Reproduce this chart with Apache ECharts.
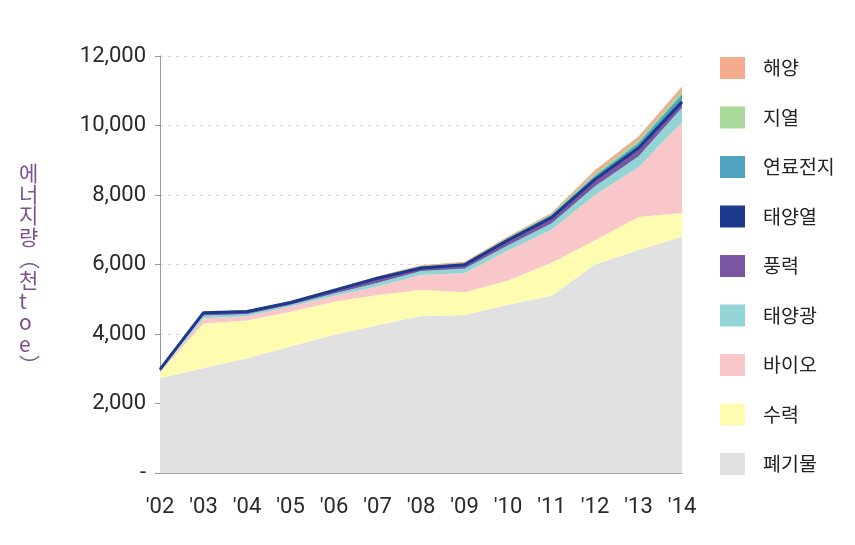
<!DOCTYPE html>
<html>
<head>
<meta charset="utf-8">
<script src="https://cdn.jsdelivr.net/npm/echarts@6/dist/echarts.min.js"></script>
<style>html,body{margin:0;padding:0;background:#fff}#c{width:855px;height:545px}</style>
</head>
<body>
<div id="c"></div>
<script>
const years = ["'02","'03","'04","'05","'06","'07","'08","'09","'10","'11","'12","'13","'14"];
const seriesNames = ['폐기물','수력','바이오','태양광','풍력','태양열','연료전지','지열','해양'];
const waste      = [2730,3020,3300,3640,3980,4250,4520,4550,4840,5100,6000,6420,6800];
const hydro      = [170,1280,1090,1000,950,870,750,650,700,950,700,950,680];
const bio        = [30,150,120,150,160,250,430,550,860,950,1300,1430,2620];
const solarPV    = [5,70,50,40,60,90,100,120,140,170,240,300,400];
const wind       = [15,60,50,40,70,110,70,90,130,150,180,220,150];
const solarHeat  = [30,35,35,35,35,33,30,30,30,30,30,30,30];
const fuelCell   = [0,5,5,5,5,10,20,30,40,60,90,130,200];
const geo        = [5,15,15,20,25,30,40,40,40,50,65,90,110];
const ocean      = [0,0,0,0,0,0,0,0,10,10,95,100,110];
const yTicks = [0,2000,4000,6000,8000,10000,12000];
const legendOrder = ['해양','지열','연료전지','태양열','풍력','태양광','바이오','수력','폐기물'];
const yTitle = ['에','너','지','량','︵','천','t','o','e','︶'];

const values = [waste, hydro, bio, solarPV, wind, solarHeat, fuelCell, geo, ocean];
const colors = ['#e1e1e1','#fdfcb0','#f9c7ca','#93d5d4','#7a55a3','#1b3a8e','#4fa3bf','#a8d89a','#f4aa8c'];
const lineW  = [0,0,0,1,1,3,1,1,1];

const chart = echarts.init(document.getElementById('c'), null, {renderer:'canvas'});
chart.setOption({
  animation:false,
  backgroundColor:'#fff',
  grid:{left:160,right:173,top:56,bottom:72},
  legend:{
    orient:'vertical', left:715, top:52,
    icon:'rect', itemWidth:25, itemHeight:22, itemGap:27.5,
    data:legendOrder,
    textStyle:{fontFamily:'Noto Sans CJK KR', fontSize:19.5, color:'#222', padding:[0,0,0,13]}
  },
  graphic:[{
    type:'text', left:19, top:162,
    style:{text:yTitle.join('\n'), fill:'#7d5191', font:'21px "Noto Sans CJK KR"', lineHeight:21.4, align:'center'}
  }],
  xAxis:{
    type:'category', data:years, boundaryGap:false,
    axisLine:{show:true, lineStyle:{color:'#aaa', width:1}},
    axisTick:{show:false},
    axisLabel:{margin:23, fontFamily:'Roboto', fontSize:22, color:'#2a2a2a'}
  },
  yAxis:{
    type:'value', min:yTicks[0], max:yTicks[yTicks.length-1], interval:2000,
    axisLine:{show:true, lineStyle:{color:'#999', width:1}},
    axisTick:{show:true, length:5, lineStyle:{color:'#999'}},
    axisLabel:{margin:14, fontFamily:'Roboto', fontSize:22, color:'#2a2a2a',
      formatter:v => v === 0 ? '-' : v.toLocaleString('en-US')},
    splitLine:{show:true, lineStyle:{color:'#d4d4d4', type:[3,5], width:1}}
  },
  series: seriesNames.map((n,i)=>({
    name:n, type:'line', stack:'total', data:values[i],
    symbol:'none', smooth:false, z: i === 5 ? 4 : 2,
    itemStyle:{color:colors[i]},
    lineStyle:{color:colors[i], width:lineW[i]},
    areaStyle:{color:colors[i], opacity:1}
  }))
});
</script>
</body>
</html>
